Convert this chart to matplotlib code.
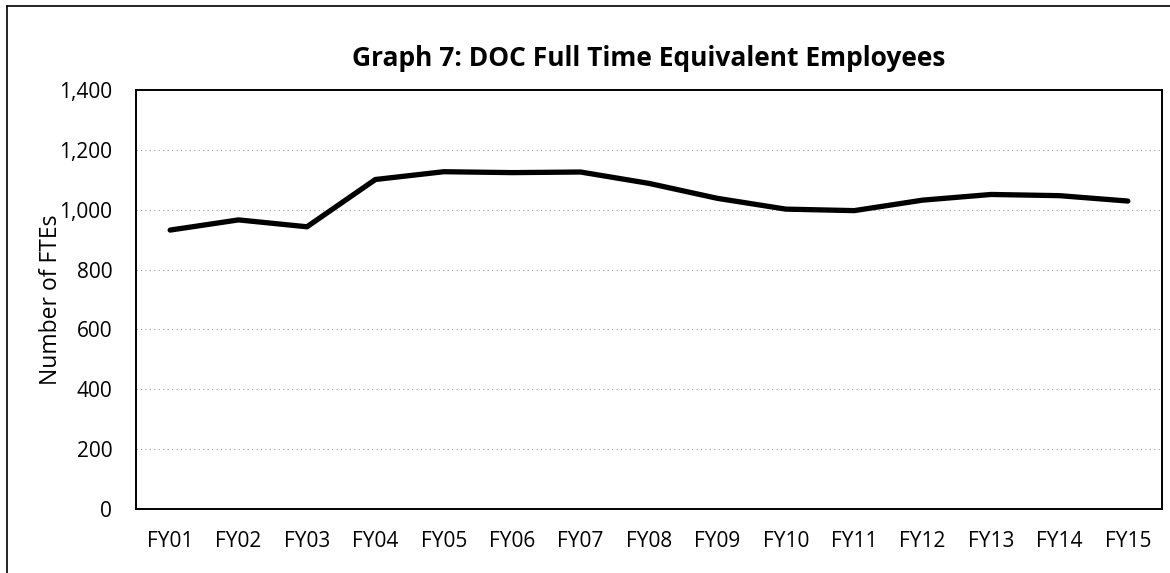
import matplotlib.pyplot as plt
from matplotlib.lines import Line2D

years = ['FY01', 'FY02', 'FY03', 'FY04', 'FY05', 'FY06', 'FY07', 'FY08',
         'FY09', 'FY10', 'FY11', 'FY12', 'FY13', 'FY14', 'FY15']
ftes = [932, 966, 943, 1101, 1127, 1124, 1126, 1088,
        1038, 1002, 997, 1032, 1051, 1047, 1029]
y_ticks = [0, 200, 400, 600, 800, 1000, 1200, 1400]

plt.rcParams['font.family'] = ['Open Sans', 'DejaVu Sans']

fig = plt.figure(figsize=(11.7, 5.73), dpi=100)
ax = fig.add_axes([0.1162, 0.1117, 0.8770, 0.7312])

x = list(range(len(years)))
ax.plot(x, ftes, color='black', linewidth=3.8, solid_joinstyle='round', solid_capstyle='round')

ax.set_xlim(-0.5, len(years) - 0.5)
ax.set_ylim(0, 1400)
ax.set_yticks(y_ticks)
ax.set_yticklabels([f'{v:,}' for v in y_ticks])
ax.set_xticks(x)
ax.set_xticklabels(years)
ax.tick_params(axis='both', length=0, labelsize=15, colors='black')
ax.tick_params(axis='x', pad=16)
ax.tick_params(axis='y', pad=17)

for v in y_ticks[1:-1]:
    ax.axhline(v, color='#9a9a9a', linewidth=0.8, linestyle=(0, (1, 3)), zorder=0)

for s in ax.spines.values():
    s.set_linewidth(1.4)
    s.set_color('black')

ax.set_ylabel('Number of FTEs', fontsize=16.5, labelpad=-3)
ax.set_title('Graph 7: DOC Full Time Equivalent Employees',
             fontsize=19, fontweight='bold', pad=17)

# scanned page frame: top and left edges
fig.add_artist(Line2D([0.006, 1.0], [0.99, 0.99], transform=fig.transFigure, color='black', linewidth=1.2))
fig.add_artist(Line2D([0.006, 0.006], [0.0, 0.99], transform=fig.transFigure, color='black', linewidth=1.2))

fig.savefig('out.png', dpi=100)
